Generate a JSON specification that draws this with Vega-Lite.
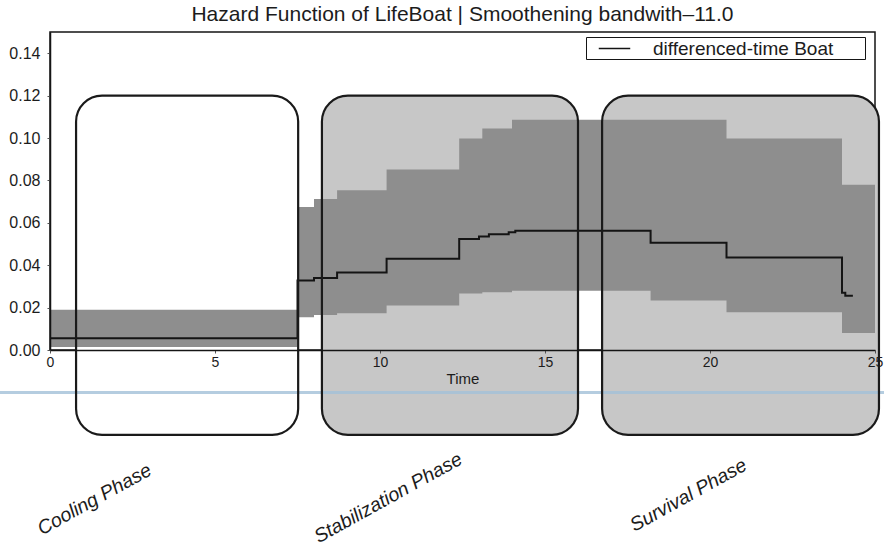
{
  "$schema": "https://vega.github.io/schema/vega-lite/v6.json",
  "width": 825,
  "height": 318,
  "autosize": "none",
  "padding": {"left": 50, "top": 32, "right": 9, "bottom": 197},
  "background": "white",
  "title": {
    "text": "Hazard Function of LifeBoat | Smoothening bandwith–11.0",
    "font": "Liberation Sans",
    "fontSize": 21,
    "fontWeight": "normal",
    "color": "#1c1c1c",
    "anchor": "middle",
    "offset": 7
  },
  "config": {
    "font": "Liberation Sans",
    "view": {"stroke": "#151515", "strokeWidth": 1.5},
    "axis": {
      "domainColor": "#151515",
      "domainWidth": 1.5,
      "tickColor": "#555555",
      "labelColor": "#1c1c1c",
      "titleColor": "#1c1c1c",
      "grid": false,
      "labelFont": "Liberation Sans",
      "titleFont": "Liberation Sans"
    }
  },
  "datasets": {
    "phases": [
      {"phase": "Cooling Phase", "start": 0.79, "end": 7.52, "top": 0.12, "bottom": -0.04},
      {"phase": "Stabilization Phase", "start": 8.24, "end": 16.0, "top": 0.12, "bottom": -0.04},
      {"phase": "Survival Phase", "start": 16.73, "end": 25.12, "top": 0.12, "bottom": -0.04}
    ],
    "band": [
      {"t": 0.0, "lo": 0.0014, "hi": 0.019},
      {"t": 7.5, "lo": 0.0155, "hi": 0.0674},
      {"t": 8.0, "lo": 0.0165, "hi": 0.0712},
      {"t": 8.7, "lo": 0.0173, "hi": 0.0754},
      {"t": 10.2, "lo": 0.021, "hi": 0.0852},
      {"t": 12.4, "lo": 0.0267, "hi": 0.0998},
      {"t": 13.1, "lo": 0.0272, "hi": 0.1045},
      {"t": 14.0, "lo": 0.028, "hi": 0.1086},
      {"t": 18.2, "lo": 0.0234, "hi": 0.1086},
      {"t": 20.5, "lo": 0.0178, "hi": 0.0998},
      {"t": 24.0, "lo": 0.008, "hi": 0.078},
      {"t": 25.0, "lo": 0.008, "hi": 0.078}
    ],
    "hazard": [
      {"t": 0.0, "h": 0.0056},
      {"t": 7.5, "h": 0.0328},
      {"t": 8.0, "h": 0.034},
      {"t": 8.7, "h": 0.0365},
      {"t": 10.2, "h": 0.0431},
      {"t": 12.4, "h": 0.0524},
      {"t": 13.0, "h": 0.0535},
      {"t": 13.3, "h": 0.0546},
      {"t": 13.9, "h": 0.0556},
      {"t": 14.1, "h": 0.0562},
      {"t": 18.2, "h": 0.0506},
      {"t": 20.5, "h": 0.0436},
      {"t": 24.0, "h": 0.027},
      {"t": 24.1, "h": 0.0256},
      {"t": 24.33, "h": 0.0256}
    ],
    "phaseLabels": [
      {"phase": "Cooling Phase", "t": 1.35, "v": -0.0705},
      {"phase": "Stabilization Phase", "t": 10.25, "v": -0.0698},
      {"phase": "Survival Phase", "t": 19.35, "v": -0.0685}
    ],
    "marker": [
      {"t": -2, "v": -0.0201},
      {"t": 27, "v": -0.0201}
    ]
  },
  "encoding": {
    "x": {
      "type": "quantitative",
      "scale": {"domain": [0, 25], "nice": false, "zero": false},
      "axis": {
        "zindex": 2,
        "values": [0, 5, 10, 15, 20, 25],
        "title": "Time",
        "titleFontSize": 15,
        "titleFontWeight": "normal",
        "titlePadding": 2,
        "labelFontSize": 14,
        "tickSize": 3,
        "labelPadding": 2,
        "labelFlush": false
      }
    },
    "y": {
      "type": "quantitative",
      "scale": {"domain": [0, 0.15], "nice": false, "zero": false},
      "axis": {
        "zindex": 2,
        "values": [0, 0.02, 0.04, 0.06, 0.08, 0.1, 0.12, 0.14],
        "format": ".2f",
        "title": null,
        "labelFontSize": 16,
        "tickSize": 3,
        "labelPadding": 7
      }
    }
  },
  "layer": [
    {
      "data": {"name": "phases"},
      "mark": {"type": "rect", "cornerRadius": 26, "clip": false, "strokeWidth": 0},
      "encoding": {
        "x": {"field": "start"},
        "x2": {"field": "end"},
        "y": {"field": "top"},
        "y2": {"field": "bottom"},
        "fill": {
          "field": "phase",
          "type": "nominal",
          "scale": {
            "domain": ["Cooling Phase", "Stabilization Phase", "Survival Phase"],
            "range": ["#ffffff", "#c7c7c7", "#c7c7c7"]
          },
          "legend": null
        }
      }
    },
    {
      "data": {"name": "band"},
      "mark": {"type": "area", "interpolate": "step-after", "color": "#8e8e8e", "opacity": 1},
      "encoding": {
        "x": {"field": "t"},
        "y": {"field": "hi"},
        "y2": {"field": "lo"}
      }
    },
    {
      "data": {"name": "hazard"},
      "mark": {"type": "line", "interpolate": "step-after", "strokeWidth": 2},
      "encoding": {
        "x": {"field": "t"},
        "y": {"field": "h"},
        "color": {
          "datum": "differenced-time Boat",
          "type": "nominal",
          "scale": {"range": ["#141414"]},
          "legend": {
            "title": null,
            "orient": "none",
            "legendX": 536,
            "legendY": 5,
            "strokeColor": "#151515",
            "fillColor": "#ffffff",
            "padding": 0,
            "symbolType": "M-1.5,0H1.5",
            "symbolSize": 440,
            "symbolStrokeWidth": 1.5,
            "symbolOffset": 17,
            "labelOffset": 27,
            "labelLimit": 400,
            "labelFontSize": 19,
            "labelColor": "#1c1c1c",
            "labelFont": "Liberation Sans",
            "labelExpr": "datum.label + '\u00a0\u00a0\u00a0\u00a0\u00a0\u00a0\u200b'"
          }
        }
      }
    },
    {
      "data": {"name": "marker"},
      "mark": {"type": "line", "clip": false, "color": "#a3c0d8", "strokeWidth": 3, "opacity": 0.8},
      "encoding": {
        "x": {"field": "t"},
        "y": {"field": "v"}
      }
    },
    {
      "data": {"name": "phases"},
      "mark": {"type": "rect", "cornerRadius": 26, "clip": false, "filled": false, "stroke": "#1a1a1a", "strokeWidth": 2.2},
      "encoding": {
        "x": {"field": "start"},
        "x2": {"field": "end"},
        "y": {"field": "top"},
        "y2": {"field": "bottom"}
      }
    },
    {
      "data": {"name": "phaseLabels"},
      "mark": {"type": "text", "clip": false, "angle": -29, "fontStyle": "italic", "fontSize": 19.5, "font": "Liberation Sans", "color": "#1c1c1c", "align": "center", "baseline": "middle"},
      "encoding": {
        "x": {"field": "t"},
        "y": {"field": "v"},
        "text": {"field": "phase"}
      }
    }
  ]
}
